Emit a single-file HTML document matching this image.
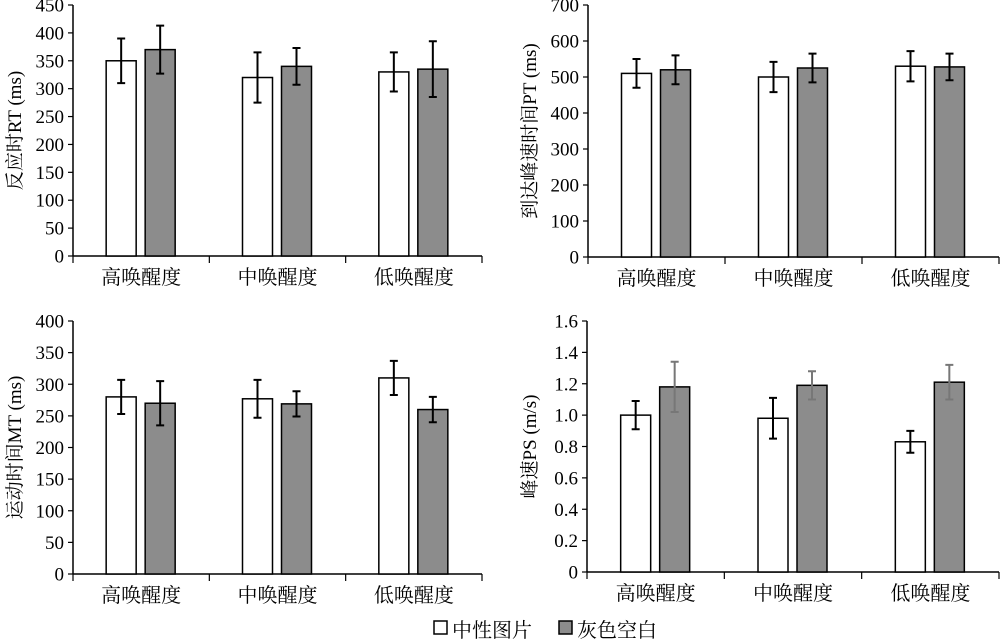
<!DOCTYPE html>
<html><head><meta charset="utf-8"><style>
body{margin:0;background:#fff;width:1000px;height:639px;overflow:hidden}
svg text{font-family:"Liberation Serif","Noto Serif CJK SC",serif;fill:#000}
</style></head><body>
<svg id="s" width="1000" height="639" xmlns="http://www.w3.org/2000/svg"></svg>
<script>
const S=document.getElementById('s');let h='';
function P(o){
 const {x0,x1,yT,yB,max,step,dec,title,tx,data,errCol}=o;
 const sc=v=>yB-(v/max)*(yB-yT);
 h+=`<line x1="${x0}" y1="${yT}" x2="${x0}" y2="${yB}" stroke="#000" stroke-width="1.5"/>`;
 h+=`<line x1="${x0}" y1="${yB}" x2="${x1}" y2="${yB}" stroke="#000" stroke-width="1.5"/>`;
 for(let v=0;v<=max+1e-9;v+=step){const y=sc(v);
  h+=`<line x1="${x0-5}" y1="${y}" x2="${x0}" y2="${y}" stroke="#000" stroke-width="1.2"/>`;
  let t=v===0?'0':v.toFixed(dec);
  h+=`<text x="${x0-9}" y="${y+6.5}" font-size="19" text-anchor="end">${t}</text>`;}
 const gw=(x1-x0)/3;const cats=['高唤醒度','中唤醒度','低唤醒度'];
 for(let i=0;i<=3;i++){const x=x0+gw*i;h+=`<line x1="${x}" y1="${yB}" x2="${x}" y2="${yB+7}" stroke="#000" stroke-width="1.2"/>`;}
 for(let i=0;i<3;i++){const c=x0+gw*i+gw/2;
  h+=`<text x="${c}" y="${yB+28}" font-size="20" text-anchor="middle">${cats[i]}</text>`;
  const d=data[i];
  [[c-35,'#fff',d[0],d[1],'#000'],[c+4,'#8c8c8c',d[2],d[3],errCol]].forEach(([bx,f,v,e,ec])=>{
   const y=sc(v);h+=`<rect x="${bx}" y="${y}" width="30" height="${yB-y}" fill="${f}" stroke="#000" stroke-width="1.5"/>`;
   const mx=bx+15,a=sc(v+e),b=sc(v-e);
   h+=`<path d="M${mx} ${a}V${b}M${mx-4} ${a}H${mx+4}M${mx-4} ${b}H${mx+4}" stroke="${ec}" stroke-width="2" fill="none"/>`;});}
 const my=(yT+yB)/2;
 h+=`<text transform="translate(${tx},${my}) rotate(-90)" font-size="19" text-anchor="middle">${title}</text>`;
}
P({x0:73,x1:482,yT:5,yB:256,max:450,step:50,dec:0,title:'反应时RT (ms)',tx:21,errCol:'#000',
 data:[[350,40,370,43],[320,45,340,33],[330,35,335,50]]});
P({x0:588,x1:999,yT:5,yB:257,max:700,step:100,dec:0,title:'到达峰速时间PT (ms)',tx:536,errCol:'#000',
 data:[[510,40,520,40],[500,42,525,40],[530,42,528,37]]});
P({x0:73,x1:482,yT:321,yB:574,max:400,step:50,dec:0,title:'运动时间MT (ms)',tx:21,errCol:'#000',
 data:[[280,27,270,35],[277,30,269,20],[310,27,260,20]]});
P({x0:587,x1:999,yT:321,yB:572,max:1.6,step:0.2,dec:1,title:'峰速PS (m/s)',tx:536,errCol:'#777',
 data:[[1.0,0.09,1.18,0.16],[0.98,0.13,1.19,0.09],[0.83,0.07,1.21,0.11]]});
h+=`<rect x="434" y="621" width="13" height="13" fill="#fff" stroke="#000" stroke-width="1.5"/>`;
h+=`<text x="452" y="637" font-size="20">中性图片</text>`;
h+=`<rect x="559" y="621" width="13" height="13" fill="#8c8c8c" stroke="#000" stroke-width="1.5"/>`;
h+=`<text x="577" y="637" font-size="20">灰色空白</text>`;
S.innerHTML=h;
</script>
</body></html>
